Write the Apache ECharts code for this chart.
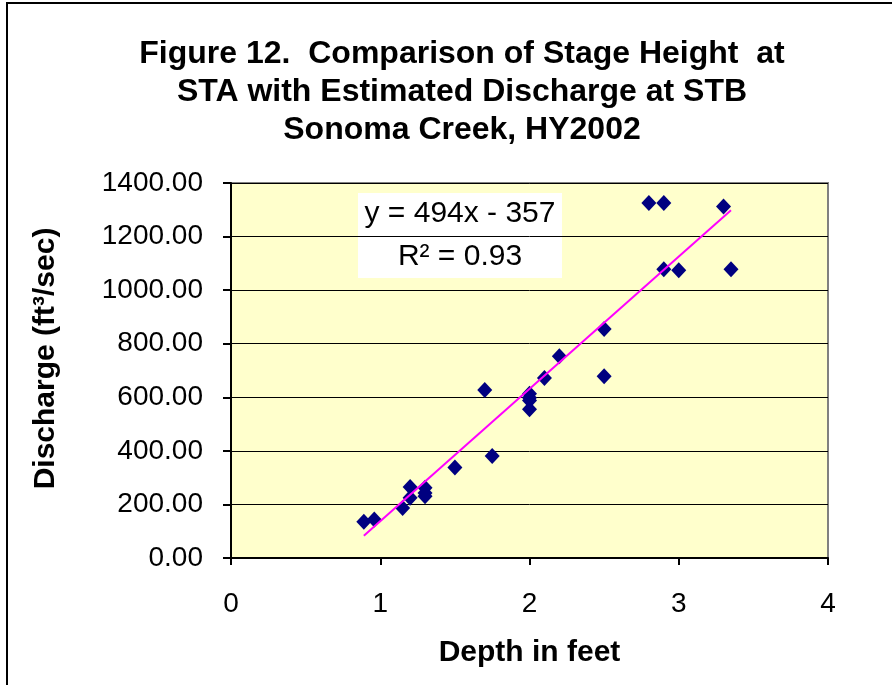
<!DOCTYPE html>
<html>
<head>
<meta charset="utf-8">
<script src="https://cdn.jsdelivr.net/npm/echarts@6/dist/echarts.min.js"></script>
<style>
  html, body { margin: 0; padding: 0; background: #fff; }
  #chart { width: 892px; height: 685px; }
</style>
</head>
<body>
<div id="chart"></div>
<script>
// depth (ft) at STA vs discharge (cfs) at STB
const depth = [0.89, 0.96, 1.15, 1.2, 1.2, 1.3, 1.3, 1.3, 1.5, 1.75, 1.7, 2.0, 2.0, 2.0, 2.0, 2.1, 2.2, 2.5, 2.5, 2.8, 2.9, 2.9, 3.0, 3.3, 3.35];
const discharge = [135, 144, 187, 265, 225, 262, 243, 231, 338, 381, 627, 613, 598, 588, 555, 672, 753, 855, 679, 1325, 1325, 1078, 1074, 1312, 1078];

// linear trendline end points (y = 494x - 357)
const trendX = [0.89, 3.35];
const trendY = [83, 1298];

const xTicks = [0, 1, 2, 3, 4];
const yTicks = [0, 200, 400, 600, 800, 1000, 1200, 1400];

const equationText = 'y = 494x - 357';
const r2Text = 'R\u00b2 = 0.93';

const chart = echarts.init(document.getElementById('chart'));

const option = {
  backgroundColor: '#ffffff',
  animation: false,
  textStyle: { fontFamily: 'Liberation Sans, Arial, sans-serif' },
  title: {
    text: 'Figure 12.  Comparison of Stage Height  at\nSTA with Estimated Discharge at STB\nSonoma Creek, HY2002',
    left: 457,
    top: 30,
    textAlign: 'center',
    textStyle: {
      fontSize: 32,
      fontWeight: 'bold',
      color: '#000',
      lineHeight: 38,
      fontFamily: 'Liberation Sans, Arial, sans-serif'
    }
  },
  grid: {
    left: 231,
    right: 64,
    top: 183,
    bottom: 127,
    show: true,
    backgroundColor: '#FFFFCC',
    borderColor: '#808080',
    borderWidth: 2
  },
  xAxis: {
    type: 'value',
    min: xTicks[0],
    max: xTicks[xTicks.length - 1],
    interval: 1,
    name: 'Depth in feet',
    nameLocation: 'middle',
    nameGap: 80,
    nameTextStyle: { fontSize: 30, fontWeight: 'bold', color: '#000' },
    axisLine: { show: true, onZero: false, lineStyle: { color: '#000', width: 2 } },
    axisTick: { show: true, inside: false, length: 7, lineStyle: { color: '#000', width: 2 } },
    axisLabel: { fontSize: 28, color: '#000', margin: 32 },
    splitLine: { show: false }
  },
  yAxis: {
    type: 'value',
    min: yTicks[0],
    max: yTicks[yTicks.length - 1],
    interval: 200,
    name: 'Discharge (ft\u00b3/sec)',
    nameLocation: 'middle',
    nameGap: 170,
    nameRotate: 90,
    nameTextStyle: { fontSize: 30, fontWeight: 'bold', color: '#000', padding: [0, 0, 0, 24] },
    axisLine: { show: true, onZero: false, lineStyle: { color: '#000', width: 2 } },
    axisTick: { show: true, inside: false, length: 8, lineStyle: { color: '#000', width: 2 } },
    axisLabel: {
      fontSize: 28,
      color: '#000',
      margin: 28,
      formatter: v => v.toFixed(2)
    },
    splitLine: { show: true, lineStyle: { color: '#000', width: 1 } }
  },
  series: [
    {
      name: 'Discharge',
      type: 'scatter',
      symbol: 'diamond',
      symbolSize: [15, 16],
      itemStyle: { color: '#000080', opacity: 1 },
      data: depth.map((d, i) => [d, discharge[i]]),
      z: 3
    },
    {
      name: 'Linear trend',
      type: 'line',
      symbol: 'none',
      lineStyle: { color: '#FF00FF', width: 2 },
      data: trendX.map((x, i) => [x, trendY[i]]),
      z: 4
    }
  ],
  graphic: [
    // outer chart frame (left and top edges visible)
    {
      type: 'rect',
      shape: { x: 7, y: 3, width: 950, height: 760 },
      style: { fill: 'none', stroke: '#000', lineWidth: 2 },
      z: 10
    },
    // trendline equation box
    {
      type: 'group',
      left: 358,
      top: 193,
      z: 20,
      children: [
        {
          type: 'rect',
          shape: { x: 0, y: 0, width: 204, height: 85 },
          style: { fill: '#fff' }
        },
        {
          type: 'text',
          x: 102,
          y: 21,
          style: {
            text: equationText,
            fontSize: 30,
            fill: '#000',
            align: 'center',
            verticalAlign: 'middle',
            fontFamily: 'Liberation Sans, Arial, sans-serif'
          }
        },
        {
          type: 'text',
          x: 102,
          y: 64,
          style: {
            text: r2Text,
            fontSize: 30,
            fill: '#000',
            align: 'center',
            verticalAlign: 'middle',
            fontFamily: 'Liberation Sans, Arial, sans-serif'
          }
        }
      ]
    }
  ]
};

chart.setOption(option);
</script>
</body>
</html>
